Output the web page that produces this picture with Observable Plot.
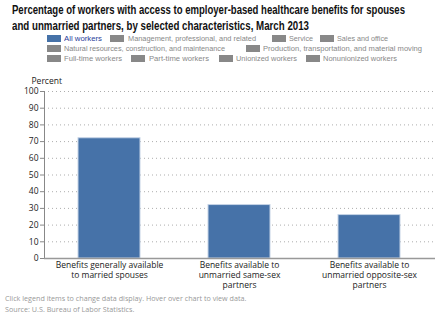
<!DOCTYPE html>
<html><head><meta charset="utf-8">
<script src="https://cdn.jsdelivr.net/npm/d3@7"></script>
<script src="https://cdn.jsdelivr.net/npm/@observablehq/plot@0.6"></script>
<style>
body{margin:0;background:#fff;width:447px;height:321px;overflow:hidden;position:relative;font-family:"Open Sans",sans-serif;}
.tl{position:absolute;left:12px;font-family:"Liberation Sans",Arial,sans-serif;font-weight:bold;font-size:12.2px;color:#111;white-space:nowrap;line-height:14px;transform-origin:0 50%;}
.li{position:absolute;font-family:"Liberation Sans",Arial,sans-serif;font-size:7.6px;color:#888;white-space:nowrap;line-height:9px;transform-origin:0 50%;}
.sw{position:absolute;width:14px;height:7px;background:#888;}
#chart{position:absolute;left:0;top:68px;}
#foot{position:absolute;left:5px;top:293px;font-size:7.2px;color:#999;line-height:11px;white-space:nowrap;}
</style></head><body>
<div id="titlebox"></div>
<div id="legend"></div>
<div id="chart"></div>
<div id="foot">Click legend items to change data display. Hover over chart to view data.<br>Source: U.S. Bureau of Labor Statistics.</div>
<script>
const titleLines = [
  "Percentage of workers with access to employer-based healthcare benefits for spouses",
  "and unmarried partners, by selected characteristics, March 2013"
];
const categories = [
  "Benefits generally available\nto married spouses",
  "Benefits available to\nunmarried same-sex\npartners",
  "Benefits available to\nunmarried opposite-sex\npartners"
];
const allWorkers = [72, 32, 26];
const legendItems = [
  "All workers", "Management, professional, and related", "Service", "Sales and office",
  "Natural resources, construction, and maintenance", "Production, transportation, and material moving",
  "Full-time workers", "Part-time workers", "Unionized workers", "Nonunionized workers"
];
const yTicks = [0,10,20,30,40,50,60,70,80,90,100];

// fit a text element to a target width by horizontal scaling
function fit(el, w){
  const cur = el.getBoundingClientRect().width;
  el.style.transform = "scaleX(" + (w / cur) + ")";
}

// title
const tb = document.getElementById("titlebox");
const titleW = [393, 297];
titleLines.forEach((t,i)=>{
  const d = document.createElement("div");
  d.className = "tl"; d.textContent = t;
  d.style.top = (3 + i*16) + "px";
  tb.appendChild(d);
  fit(d, titleW[i]);
});

// legend layout (positions only): swatch x, row center y, text x, text width
const legPos = [
  [47,38,64,38],[110,38,128,128],[272,38,289,24],[320,38,337,51],
  [47,48,64,161],[246,48,263,159],
  [47,58,64,58],[131,58,149,60],[219,58,236,61],[306,58,323,74]
];
const leg = document.getElementById("legend");
legendItems.forEach((t,i)=>{
  const [sx, y, tx, tw] = legPos[i];
  const sw = document.createElement("div"); sw.className="sw";
  sw.style.left = sx+"px"; sw.style.top = (y-3.5)+"px";
  const d = document.createElement("div");
  d.className = "li"; d.textContent = t;
  d.style.left = tx+"px"; d.style.top = (y-4.5)+"px";
  if(i===0){ sw.style.background="#4672a8"; d.style.color="#1f3d99"; }
  leg.appendChild(sw); leg.appendChild(d);
  fit(d, tw);
});

const data = categories.map((c,i)=>({category:c, value:allWorkers[i]}));
const plot = Plot.plot({
  width: 447, height: 224,
  marginTop: 23, marginBottom: 34, marginLeft: 44, marginRight: 12,
  style: {fontFamily: "Open Sans, sans-serif", fontSize: "8.5px", color: "#222", background: "#fff"},
  x: {domain: categories, paddingInner: 0.52, paddingOuter: 0.26, label: null},
  y: {domain: [0,100], ticks: yTicks, label: null},
  marks: [
    Plot.gridY(yTicks.slice(1), {stroke: "#999", strokeOpacity: 0.8, strokeDasharray: "1,3"}),
    Plot.barY(data, {x: "category", y: "value", fill: "#4672a8", stroke: "#c5d3e6", strokeWidth: 1}),
    Plot.axisY({ticks: yTicks, tickSize: 4, stroke: "#888", tickPadding: 2, fontSize: "8.5px", label: null}),
    Plot.frame({anchor: "left", stroke: "#888"}),
    Plot.ruleY([0], {stroke: "#999", strokeWidth: 1.5}),
    Plot.axisX({tickSize: 0, tickPadding: 3, lineHeight: 1.15, fontSize: "8.5px", label: null}),
    Plot.text(["Percent"], {frameAnchor: "top-left", dx: -13, dy: -14, textAnchor: "start", fontSize: "8.5px"})
  ]
});
document.getElementById("chart").appendChild(plot);
</script>
</body></html>
